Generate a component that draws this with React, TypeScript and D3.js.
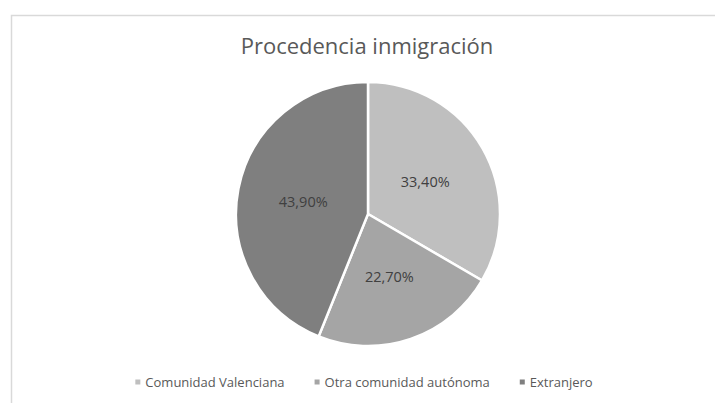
import React, { useEffect, useRef } from "react";
import * as d3 from "d3";

const categories = ["Comunidad Valenciana", "Otra comunidad autónoma", "Extranjero"];
const values = [33.4, 22.7, 43.9];
const labels = ["33,40%", "22,70%", "43,90%"];
const colors = ["#bfbfbf", "#a5a5a5", "#7f7f7f"];

const width = 715;
const height = 403;
const font = "'Open Sans', 'Liberation Sans', sans-serif";

export default function App() {
  const ref = useRef<SVGSVGElement>(null);

  useEffect(() => {
    const svg = d3.select(ref.current);
    svg.selectAll("*").remove();

    // chart area frame
    svg.append("rect")
      .attr("x", 11.5).attr("y", 15.5)
      .attr("width", width).attr("height", height)
      .attr("fill", "#fff").attr("stroke", "#d9d9d9").attr("stroke-width", 1.5);

    svg.append("text")
      .attr("x", 367).attr("y", 54)
      .attr("text-anchor", "middle")
      .attr("font-family", font).attr("font-size", 22)
      .attr("fill", "#595959")
      .text("Procedencia inmigración");

    const data = categories.map((c, i) => ({ label: c, value: values[i], text: labels[i], color: colors[i] }));
    const radius = 132;
    const pieData = d3.pie<any>().sort(null).value(d => d.value)(data);
    const arcGen = d3.arc<any>().innerRadius(0).outerRadius(radius);
    const labelArc = d3.arc<any>().innerRadius(radius * 0.5).outerRadius(radius * 0.5);

    const g = svg.append("g").attr("transform", `translate(368,214)`);
    g.selectAll("path").data(pieData).join("path")
      .attr("d", arcGen)
      .attr("fill", d => d.data.color)
      .attr("stroke", "#fff").attr("stroke-width", 2.5);

    g.selectAll("text").data(pieData).join("text")
      .attr("x", d => labelArc.centroid(d)[0])
      .attr("y", d => labelArc.centroid(d)[1])
      .attr("text-anchor", "middle").attr("dominant-baseline", "central")
      .attr("font-family", font).attr("font-size", 14.5)
      .attr("fill", "#404040")
      .text(d => d.data.text);

    // legend, laid out by measured text width and centred
    const leg = svg.append("g");
    const items = leg.selectAll("g").data(data).join("g");
    items.append("rect").attr("width", 5).attr("height", 5).attr("y", -2.5).attr("fill", d => d.color);
    items.append("text")
      .attr("x", 10).attr("dominant-baseline", "central")
      .attr("font-family", font).attr("font-size", 13)
      .attr("fill", "#595959")
      .text(d => d.label);
    let x = 0;
    items.each(function () {
      const w = (d3.select(this).select("text").node() as SVGTextElement).getComputedTextLength();
      d3.select(this).attr("transform", `translate(${x},0)`);
      x += 10 + w + 30;
    });
    const total = x - 30;
    leg.attr("transform", `translate(${364 - total / 2},382)`);
  }, []);

  return (
    <svg ref={ref} width={width} height={height}
      style={{ position: "absolute", left: 0, top: 0, background: "#fff" }} />
  );
}
